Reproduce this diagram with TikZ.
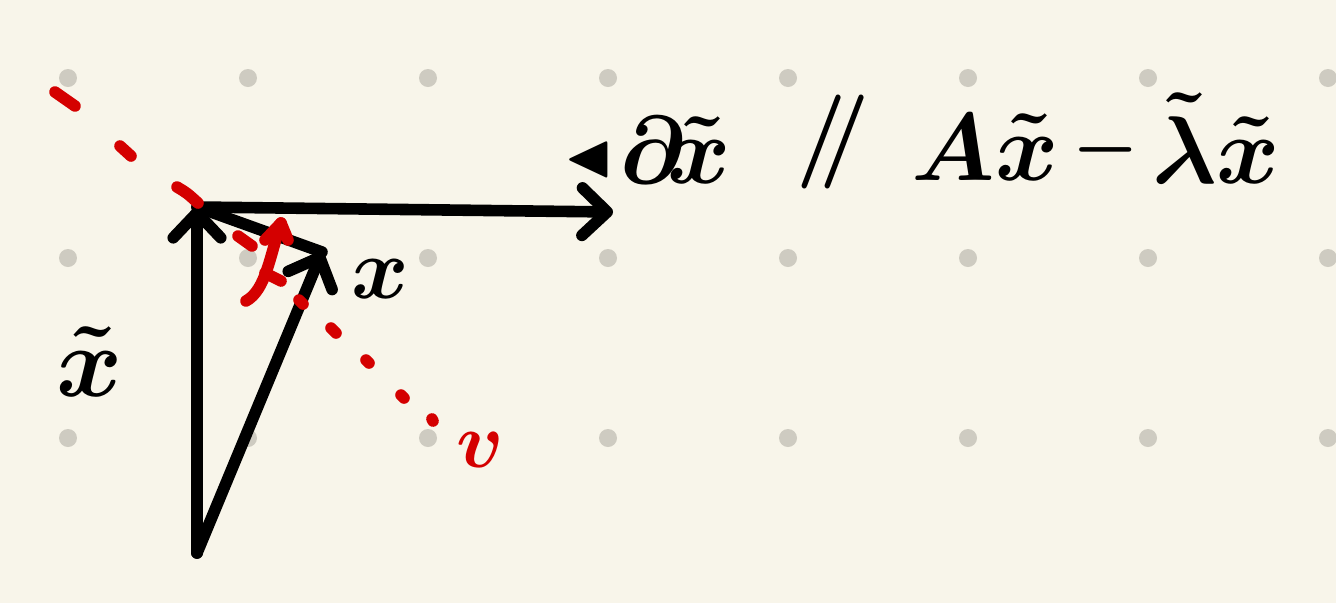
\documentclass[tikz,border=0pt]{standalone}
\usepackage{graphicx}
\usepackage{amssymb}
\usetikzlibrary{arrows.meta,calc}
\definecolor{paper}{RGB}{248,245,234}
\definecolor{dotc}{RGB}{206,203,193}
\definecolor{ink}{RGB}{0,0,0}
\definecolor{pen}{RGB}{212,0,0}
\newcommand{\hwtext}[2][2.41]{\scalebox{#1}{\Huge\boldmath#2}}
\tikzset{
  vec/.style={ink, line width=6.6pt, line cap=round, line join=round,
    -{Straight Barb[length=0.5cm,width=0.95cm,round]}},
  seg/.style={ink, line width=6.6pt, line cap=round},
  rpen/.style={pen, line width=6.6pt, line cap=round, line join=round},
  gdot/.style={circle, fill=dotc, inner sep=0pt, minimum size=0.36cm},
  hand/.style={inner sep=0pt},
  rhand/.style={hand, text=pen},
}
\begin{document}
\begin{tikzpicture}[x=0.02cm,y=-0.02cm]
\fill[paper] (0,0) rectangle (1336,603);
\useasboundingbox (0,0) rectangle (1336,603);
% grid dots
\foreach \i in {0,...,7} {
  \foreach \j in {0,1,2} {
    \node[gdot] (d\i-\j) at ({68+180*\i},{78+180*\j}) {};
  }
}
% points
\coordinate (O) at (197,553);
\coordinate (T) at (197,207);
\coordinate (P) at (322,252);
\coordinate (H) at (613,212);
% black vectors
\draw[seg] (T) -- (P);
\draw[vec] (O) -- (T);
\draw[vec] (T) -- (H);
\draw[vec] (O) -- (P);
% red dashed line v
\draw[rpen] (55,92) -- (75,106);
\draw[rpen] (120,146) -- (131,156);
\draw[rpen] (177,187) .. controls (187,193) .. (198,203);
\draw[rpen] (238,236) -- (252,246);
\draw[rpen] (299,300) -- (303,304);
\draw[rpen] (331,328) -- (336,333);
\draw[rpen] (366,360) -- (369,363);
\draw[rpen] (401,395) -- (404,398);
\draw[rpen] (432,419) -- (433,421);
% red angle mark
\coordinate (a1) at (246,301);
\coordinate (a2) at (281,223);
\draw[rpen] (a1) .. controls (266,290) and (270,255) .. (a2);
\draw[rpen] (265,240) -- (a2) -- (288,240);
\draw[rpen] (265,273) -- (281,281);
% labels
\node[rhand] (lv) at (480,450) {\hwtext[1.8]{$v$}};
\node[hand] (lx) at (380,279) {\hwtext[2.0]{$x$}};
\node[hand] (lxt) at (90,362) {\hwtext[2.3]{$\tilde{x}$}};
% equation
\node[hand] (e1) at (648,150) {\hwtext[2.2]{$\vcenter{\hbox{\scalebox{0.65}{$\blacktriangleleft$}}}\mkern1mu\partial\!\tilde{x}$}};
\node[hand] (e2) at (833,142) {\scalebox{2.0}[2.15]{\Huge\boldmath$/\mkern-5mu/$}};
\node[hand] (e3) at (985,147) {\hwtext[2.2]{$A\tilde{x}$}};
\node[hand] (e4) at (1106,150) {\hwtext[1.7]{$-$}};
\node[hand] (e5) at (1216,138) {\hwtext[2.2]{$\tilde{\lambda}\tilde{x}$}};
\end{tikzpicture}
\end{document}
